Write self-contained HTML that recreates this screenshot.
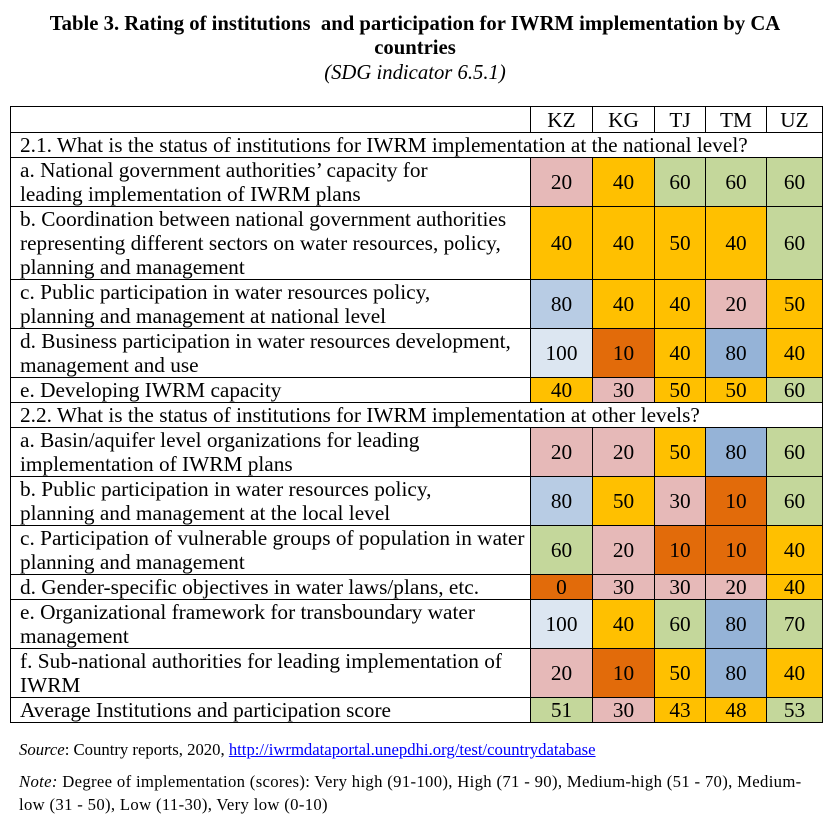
<!DOCTYPE html>
<html><head><meta charset="utf-8"><style>
body{margin:0;background:#fff;width:830px;height:821px;overflow:hidden;font-family:"Liberation Serif",serif;color:#000}
.t{position:absolute;left:0;width:830px;text-align:center;font-size:20.7px}
table{position:absolute;left:10px;top:106px;border-collapse:collapse;table-layout:fixed;font-size:21.3px;line-height:24px}
td{border:1.5px solid #000;padding:0 0 0 9px;vertical-align:middle;white-space:nowrap;overflow:hidden}
td.n{text-align:center;padding:0}
.p{background:#E6B9B8}.o{background:#FFC000}.g{background:#C4D79B}.b{background:#95B3D7}.lb{background:#B8CCE4}.vl{background:#DCE6F1}.d{background:#E26B0A}
.f{position:absolute;left:19px;font-size:16.7px;white-space:nowrap}
</style></head><body>
<div class="t" style="top:12px;font-weight:bold;line-height:24px">Table 3. Rating of institutions&nbsp; and participation for IWRM implementation by CA<br>countries</div>
<div class="t" style="top:62px;font-style:italic">(SDG indicator 6.5.1)</div>
<table>
<colgroup><col style="width:520px"><col style="width:62px"><col style="width:62px"><col style="width:51px"><col style="width:61px"><col style="width:56px"></colgroup>
<tr style="height:26px"><td></td><td class="n">KZ</td><td class="n">KG</td><td class="n">TJ</td><td class="n">TM</td><td class="n">UZ</td></tr>
<tr style="height:24px"><td colspan="6">2.1. What is the status of institutions for IWRM implementation at the national level?</td></tr>
<tr style="height:49px"><td>a. National government authorities’ capacity for<br>leading implementation of IWRM plans</td><td class="n p">20</td><td class="n o">40</td><td class="n g">60</td><td class="n g">60</td><td class="n g">60</td></tr>
<tr style="height:73px"><td>b. Coordination between national government authorities<br>representing different sectors on water resources, policy,<br>planning and management</td><td class="n o">40</td><td class="n o">40</td><td class="n o">50</td><td class="n o">40</td><td class="n g">60</td></tr>
<tr style="height:48px"><td>c. Public participation in water resources policy,<br>planning and management at national level</td><td class="n lb">80</td><td class="n o">40</td><td class="n o">40</td><td class="n p">20</td><td class="n o">50</td></tr>
<tr style="height:49px"><td>d. Business participation in water resources development,<br>management and use</td><td class="n vl">100</td><td class="n d">10</td><td class="n o">40</td><td class="n b">80</td><td class="n o">40</td></tr>
<tr style="height:24px"><td>e. Developing IWRM capacity</td><td class="n o">40</td><td class="n p">30</td><td class="n o">50</td><td class="n o">50</td><td class="n g">60</td></tr>
<tr style="height:24px"><td colspan="6">2.2. What is the status of institutions for IWRM implementation at other levels?</td></tr>
<tr style="height:49px"><td>a. Basin/aquifer level organizations for leading<br>implementation of IWRM plans</td><td class="n p">20</td><td class="n p">20</td><td class="n o">50</td><td class="n b">80</td><td class="n g">60</td></tr>
<tr style="height:48px"><td>b. Public participation in water resources policy,<br>planning and management at the local level</td><td class="n lb">80</td><td class="n o">50</td><td class="n p">30</td><td class="n d">10</td><td class="n g">60</td></tr>
<tr style="height:49px"><td>c. Participation of vulnerable groups of population in water<br>planning and management</td><td class="n g">60</td><td class="n p">20</td><td class="n d">10</td><td class="n d">10</td><td class="n o">40</td></tr>
<tr style="height:25px"><td>d. Gender-specific objectives in water laws/plans, etc.</td><td class="n d">0</td><td class="n p">30</td><td class="n p">30</td><td class="n p">20</td><td class="n o">40</td></tr>
<tr style="height:49px"><td>e. Organizational framework for transboundary water<br>management</td><td class="n vl">100</td><td class="n o">40</td><td class="n g">60</td><td class="n b">80</td><td class="n g">70</td></tr>
<tr style="height:49px"><td>f. Sub-national authorities for leading implementation of<br>IWRM</td><td class="n p">20</td><td class="n d">10</td><td class="n o">50</td><td class="n b">80</td><td class="n o">40</td></tr>
<tr style="height:24px"><td>Average Institutions and participation score</td><td class="n g">51</td><td class="n p">30</td><td class="n o">43</td><td class="n o">48</td><td class="n g">53</td></tr>
</table>
<div class="f" style="top:740px"><i>Source</i>: Country reports, 2020, <span style="color:#00f;text-decoration:underline">http://iwrmdataportal.unepdhi.org/test/countrydatabase</span></div>
<div class="f" style="top:770px;line-height:23px;letter-spacing:0.33px"><i>Note:</i> Degree of implementation (scores): Very high (91-100), High (71 - 90), Medium-high (51 - 70), Medium-<br>low (31 - 50), Low (11-30), Very low (0-10)</div>
</body></html>
